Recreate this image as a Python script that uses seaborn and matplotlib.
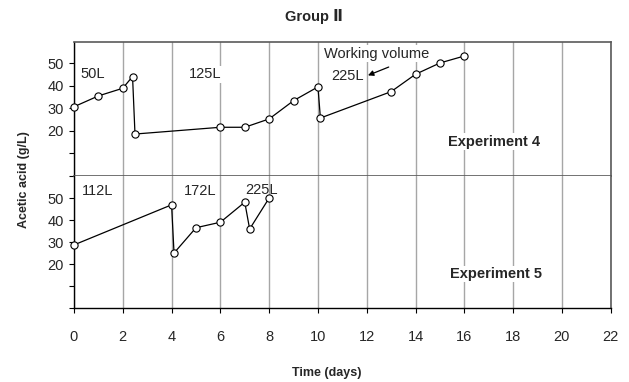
import matplotlib
matplotlib.use("Agg")
import matplotlib.pyplot as plt
import seaborn as sns
import pandas as pd

# Acetic acid concentration over time, two fermentation runs
exp4_day = [0, 1, 2, 2.4, 2.5, 6, 7, 8, 9, 10, 10.1, 13, 14, 15, 16]
exp4_acid = [30.7, 35.5, 38.9, 44.1, 18.6, 21.6, 21.6, 25.3, 33.4, 39.5, 25.7, 37.4, 45.1, 50.1, 53.2]

exp5_day = [0, 4, 4.1, 5, 6, 7, 7.2, 8]
exp5_acid = [28.8, 47.0, 25.1, 36.6, 39.1, 48.2, 36.0, 50.1]

x_ticks = list(range(0, 23, 2))
y_ticks = [0, 10, 20, 30, 40, 50]
y_tick_labels = ["", "", "20", "30", "40", "50"]

sns.set_style("ticks")
plt.rcParams["font.family"] = ["Liberation Sans", "DejaVu Sans"]

fig = plt.figure(figsize=(6.29, 3.82), dpi=100)
gs = fig.add_gridspec(2, 1, height_ratios=[134, 132.3], hspace=0,
                      left=74 / 629, right=610.7 / 629,
                      top=1 - 42 / 382, bottom=1 - 308.3 / 382)
ax_top = fig.add_subplot(gs[0])
ax_bot = fig.add_subplot(gs[1], sharex=ax_top)

df4 = pd.DataFrame({"day": exp4_day, "acid": exp4_acid})
df5 = pd.DataFrame({"day": exp5_day, "acid": exp5_acid})

line_kw = dict(color="black", linewidth=0.9, marker="o", markersize=5.2,
               markerfacecolor="white", markeredgecolor="black",
               markeredgewidth=0.8, estimator=None, sort=False, zorder=5,
               clip_on=False)
sns.lineplot(data=df4, x="day", y="acid", ax=ax_top, **line_kw)
sns.lineplot(data=df5, x="day", y="acid", ax=ax_bot, **line_kw)

ax_top.set_ylim(0, 59.4)
ax_bot.set_ylim(0, 60.1)
ax_bot.set_xlim(0, 22)

frame_grey = "#5a5a5a"
for ax in (ax_top, ax_bot):
    ax.set_xticks(x_ticks)
    ax.set_yticks(y_ticks)
    ax.set_yticklabels(y_tick_labels)
    ax.grid(axis="x", color="#a6a6a6", linewidth=1.0, zorder=0)
    ax.set_axisbelow(True)
    ax.set_xlabel("")
    ax.set_ylabel("")
    ax.tick_params(axis="y", direction="out", length=3.8, width=0.8,
                   labelsize=10.5, pad=3.5, color="black")
    ax.spines["left"].set_color("black")
    ax.spines["left"].set_linewidth(1.0)
    ax.spines["right"].set_color(frame_grey)
    ax.spines["right"].set_linewidth(1.2)

ax_top.spines["top"].set_color(frame_grey)
ax_top.spines["top"].set_linewidth(1.2)
ax_top.spines["bottom"].set_color(frame_grey)
ax_top.spines["bottom"].set_linewidth(1.2)
ax_top.tick_params(axis="x", length=0, labelbottom=False)

ax_bot.spines["top"].set_visible(False)
ax_bot.spines["bottom"].set_color("black")
ax_bot.spines["bottom"].set_linewidth(1.0)
ax_bot.tick_params(axis="x", direction="out", length=3.8, width=0.8,
                   labelsize=10.5, pad=11.5, color="black")

box = dict(facecolor="white", edgecolor="none", pad=1.0)
txt = dict(fontsize=10.5, ha="center", va="center", zorder=6)

# Working volume labels, Experiment 4
ax_top.text(0.78, 45.0, "50L", bbox=box, **txt)
ax_top.text(5.39, 45.0, "125L", bbox=box, **txt)
ax_top.text(11.2, 44.4, "225L", bbox=box, **txt)
ax_top.text(12.42, 54.1, "Working volume", bbox=box, **txt)
ax_top.annotate("", xy=(12.05, 44.6), xytext=(12.9, 48.3),
                arrowprops=dict(arrowstyle="-|>", color="black", lw=0.9,
                                mutation_scale=8, shrinkA=0, shrinkB=0),
                zorder=6)
ax_top.text(17.2, 15.2, "Experiment 4", fontweight="bold", bbox=box, **txt)

# Working volume labels, Experiment 5
ax_bot.text(0.95, 53.4, "112L", bbox=box, **txt)
ax_bot.text(5.19, 53.4, "172L", bbox=box, **txt)
ax_bot.text(7.7, 53.8, "225L", **txt)
ax_bot.text(17.28, 15.6, "Experiment 5", fontweight="bold", bbox=box, **txt)

fig.text(314 / 629, 1 - 16 / 382, "Group Ⅱ", fontsize=10.5, fontweight="bold",
         ha="center", va="center")
fig.text(327 / 629, 1 - 373 / 382, "Time (days)", fontsize=9, fontweight="bold",
         ha="center", va="center")
fig.text(24 / 629, 1 - 180 / 382, "Acetic acid (g/L)", fontsize=9,
         fontweight="bold", rotation=90, ha="center", va="center")

fig.savefig("out.png", dpi=100)
